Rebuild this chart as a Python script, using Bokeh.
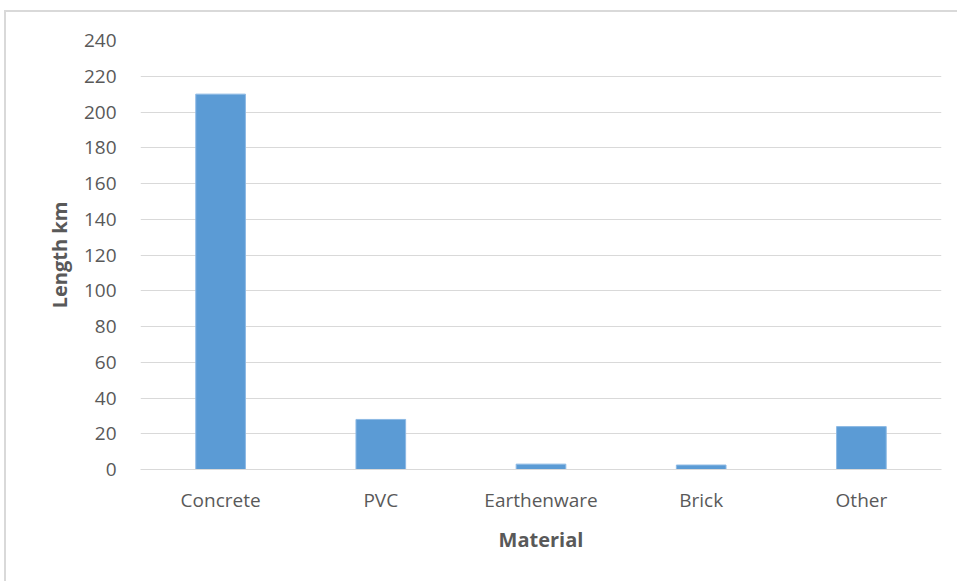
from bokeh.plotting import figure
from bokeh.models import Range1d, FixedTicker, ColumnDataSource
from bokeh.embed import file_html
from bokeh.resources import INLINE

materials = ["Concrete", "PVC", "Earthenware", "Brick", "Other"]
lengths_km = [210, 28, 3, 2.5, 24]
y_ticks = list(range(0, 241, 20))

src = ColumnDataSource(data=dict(material=materials, length=lengths_km))

p = figure(width=953, height=571, x_range=materials, y_range=Range1d(0, 240),
           output_backend="svg", toolbar_location=None,
           min_border_left=134, min_border_right=18, min_border_top=28, min_border_bottom=114)
p.styles = {"margin-left": "4px", "margin-top": "10px",
            "border-left": "2px solid #d9d9d9", "border-top": "2px solid #d9d9d9"}
p.outline_line_color = None
p.background_fill_color = "white"
p.border_fill_color = "white"

p.vbar(x="material", top="length", width=0.31, source=src,
       fill_color="#5B9BD5", line_color="#8DB9E4", line_width=1)

FONT = "Open Sans"
TXT = "#595959"

yax = p.yaxis[0]
yax.ticker = FixedTicker(ticks=y_ticks)
yax.axis_line_color = None
yax.major_tick_line_color = None
yax.minor_tick_line_color = None
yax.major_label_standoff = 18
yax.major_label_text_font = FONT
yax.major_label_text_font_size = "19px"
yax.major_label_text_color = TXT
yax.axis_label = "Length km"
yax.axis_label_text_font = FONT
yax.axis_label_text_font_size = "20px"
yax.axis_label_text_font_style = "bold"
yax.axis_label_text_color = TXT
yax.axis_label_standoff = 8

xax = p.xaxis[0]
xax.axis_line_color = "#d9d9d9"
xax.major_tick_line_color = None
xax.minor_tick_line_color = None
xax.major_label_standoff = 11
xax.major_label_text_font = FONT
xax.major_label_text_font_size = "19px"
xax.major_label_text_color = TXT
xax.axis_label = "Material"
xax.axis_label_text_font = FONT
xax.axis_label_text_font_size = "20px"
xax.axis_label_text_font_style = "bold"
xax.axis_label_text_color = TXT
xax.axis_label_standoff = 10

p.xgrid.grid_line_color = None
p.ygrid.grid_line_color = "#d9d9d9"
p.ygrid.grid_line_width = 1
p.ygrid.ticker = FixedTicker(ticks=y_ticks)

open("out.html", "w").write(file_html(p, INLINE))
